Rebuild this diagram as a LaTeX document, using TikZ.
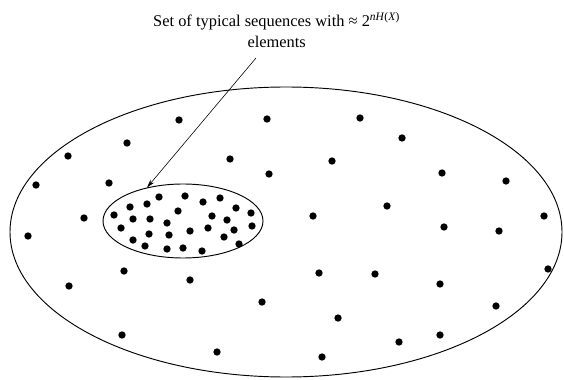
\documentclass[tikz,border=0pt]{standalone}
\usepackage{fontspec}
\setmainfont{Liberation Serif}
\usetikzlibrary{arrows.meta,shapes.geometric}

\begin{document}
\begin{tikzpicture}[>=Stealth, font=\fontsize{14}{18}\selectfont,
    setline/.style={line width=0.8pt},
    elem/.style={fill=black}]
  \useasboundingbox (0,0) rectangle (16.92,11.37);
  % Outer set of all sequences
  \draw[setline] (8.58,4.41) ellipse [x radius=8.28, y radius=4.35];
  % Typical set
  \node[setline, draw, ellipse, inner sep=0, minimum width=4.80cm,
        minimum height=2.22cm] (typset) at (5.49,4.74) {};
  % Label and arrow
  \node[align=center] (label) at (8.30,10.46)
    {Set of typical sequences with ≈ 2\textsuperscript{\textit{nH}(\textit{X})}\\elements};
  \coordinate (tail) at (7.68,9.63);
  \draw[->, line width=0.5pt, >={Stealth[length=7pt,width=4pt]}] (tail) -- (typset.137);
  % Non-typical sequences
  \foreach \x/\y in {5.37/7.77, 3.81/7.08, 2.04/6.69, 1.08/5.82, 3.27/5.88,
      8.01/7.80, 10.80/7.83, 6.90/6.60, 9.96/6.54, 8.07/6.15, 12.06/7.23,
      13.26/6.18, 15.18/5.94, 2.52/4.83, 0.84/4.29, 3.72/3.24, 2.07/2.79,
      5.70/2.97, 9.39/4.89, 11.61/5.19, 13.32/4.56, 14.97/4.44, 16.32/4.89,
      9.57/3.18, 11.25/3.15, 13.20/2.85, 16.44/3.30, 7.86/2.31, 10.14/1.83,
      14.88/2.19, 3.66/1.32, 6.51/0.81, 9.66/0.66, 11.97/1.11, 13.20/1.32}
    \fill[elem] (\x,\y) circle (0.11);
  % Typical sequences
  \foreach \x/\y in {3.42/4.92, 3.90/5.16, 4.41/5.25, 4.77/5.46, 5.55/5.49,
      5.34/5.04, 3.99/4.80, 4.50/4.80, 5.01/4.68, 3.63/4.53, 4.47/4.35,
      5.07/4.32, 3.99/4.17, 4.35/3.99, 5.01/3.90, 5.49/3.93, 5.70/4.44,
      6.09/5.31, 6.60/5.43, 7.08/5.13, 7.53/4.98, 6.36/4.89, 6.81/4.77,
      6.24/4.53, 7.02/4.47, 7.56/4.59, 6.72/4.26, 7.17/4.05, 6.06/3.84}
    \fill[elem] (\x,\y) circle (0.11);
\end{tikzpicture}
\end{document}
